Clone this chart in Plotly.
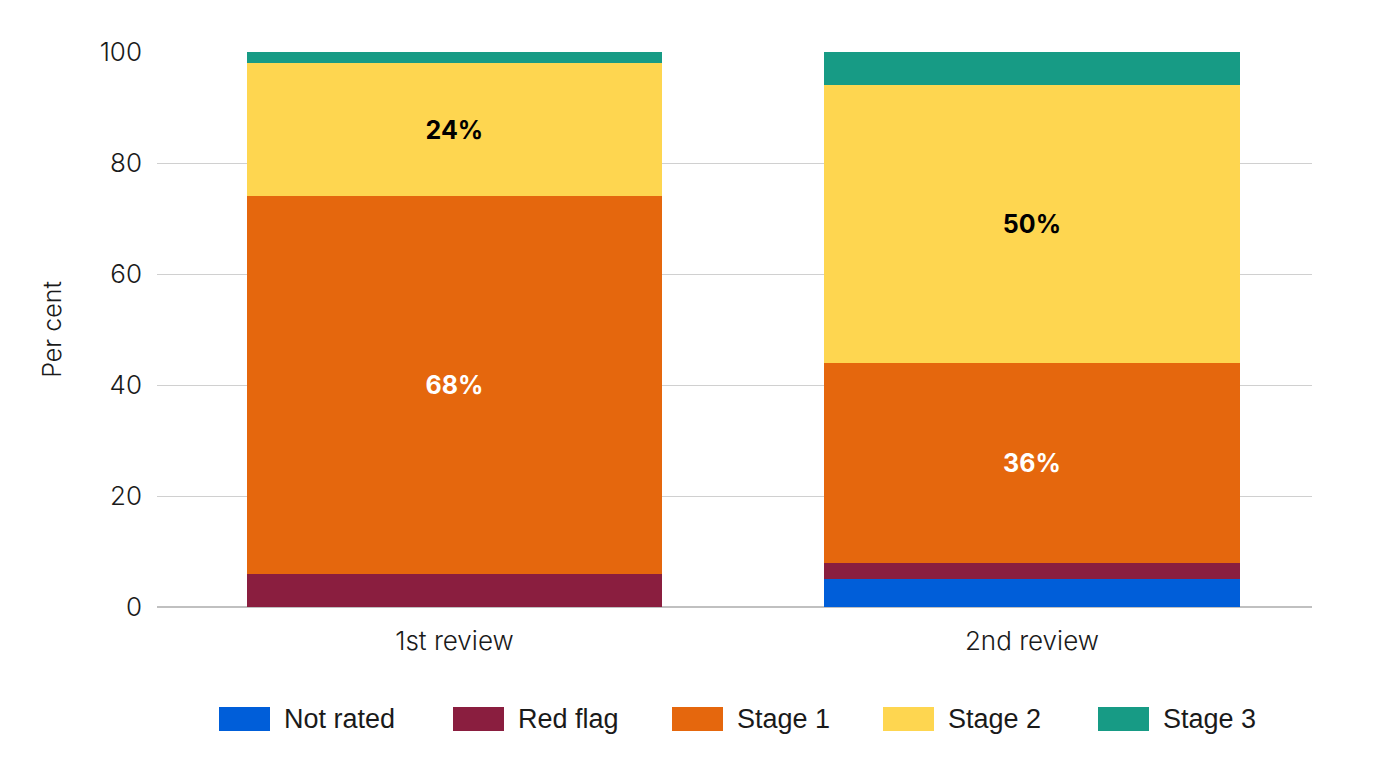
import plotly.graph_objects as go

categories = ["1st review", "2nd review"]
series_names = ["Not rated", "Red flag", "Stage 1", "Stage 2", "Stage 3"]
not_rated = [0, 5]
red_flag = [6, 3]
stage_1 = [68, 36]
stage_2 = [24, 50]
stage_3 = [2, 6]
colors = ["#005ED9", "#8A1E3F", "#E5670D", "#FED650", "#179B85"]
label_series = {"Stage 1": "white", "Stage 2": "black"}
y_ticks = [0, 20, 40, 60, 80, 100]

values = [not_rated, red_flag, stage_1, stage_2, stage_3]
FONT = "Inter, Roboto, sans-serif"
LEG_FONT = "Liberation Sans, Arial, sans-serif"
TXT = "#1a1a1a"

# plot area in page pixels (page has 8px body offset)
PL, PR, PT, PB = 157, 1312, 52, 607
W, H = 1370, 766

fig = go.Figure()
for name, vals, col in zip(series_names, values, colors):
    show_text = name in label_series
    fig.add_trace(go.Bar(
        name=name, x=categories, y=vals,
        marker=dict(color=col, line=dict(width=0)),
        text=[f"{v}%" for v in vals] if show_text else None,
        textposition="inside" if show_text else "none",
        insidetextanchor="middle",
        textangle=0,
        textfont=dict(family=FONT, size=25, color=label_series.get(name, "black"), weight="bold"),
        hoverinfo="name+y",
        showlegend=False,
    ))

# custom legend (larger swatches than plotly's built-in legend)
legend_starts = [219, 453, 672, 883, 1098]
def px_x(X):
    return (X - PL) / (PR - PL)
def px_y(Y):
    return (PB - Y) / (PB - PT)
shapes = []
annotations = []
for name, col, x0 in zip(series_names, colors, legend_starts):
    shapes.append(dict(type="rect", xref="paper", yref="paper",
                       x0=px_x(x0), x1=px_x(x0 + 51), y0=px_y(731), y1=px_y(707),
                       fillcolor=col, line=dict(width=0)))
    annotations.append(dict(xref="paper", yref="paper", x=px_x(x0 + 63), y=px_y(719),
                            xanchor="left", yanchor="middle", showarrow=False,
                            text=name, font=dict(family=LEG_FONT, size=27, color=TXT)))

fig.update_layout(
    barmode="stack",
    bargap=0.28,
    width=W, height=H,
    margin=dict(l=PL - 8, r=W - (PR - 8), t=PT - 8, b=H - (PB - 8)),
    paper_bgcolor="white", plot_bgcolor="white",
    font=dict(family=FONT, size=25, color=TXT),
    shapes=shapes,
    annotations=annotations,
    showlegend=False,
)
fig.update_xaxes(
    range=[-0.515, 1.485], showgrid=False, ticks="", showline=False,
    tickfont=dict(size=26, weight=300), ticklabelstandoff=16,
)
fig.update_yaxes(
    range=[0, 100], tickvals=y_ticks, showgrid=True, gridcolor="#d0d0d0", gridwidth=1,
    zeroline=True, zerolinecolor="#c0c0c0", zerolinewidth=1.5,
    title=dict(text="Per cent", font=dict(size=25, weight=300), standoff=30),
    tickfont=dict(size=26, weight=300), ticks="", ticklabelstandoff=14,
)

fig.write_html("out.html")
